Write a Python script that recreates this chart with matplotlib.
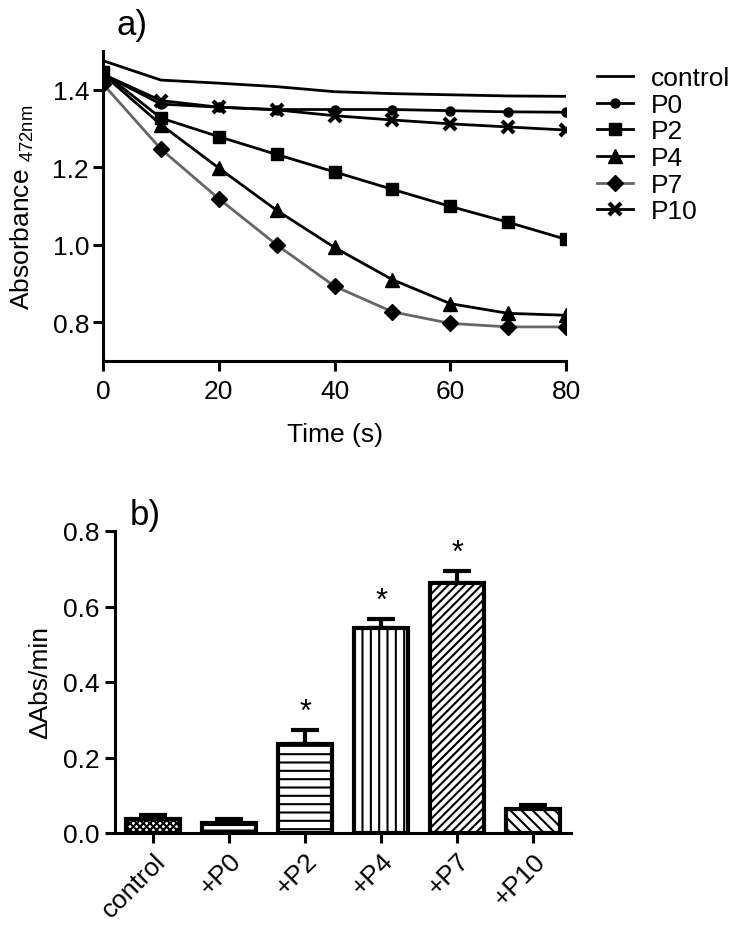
import numpy as np
import matplotlib.pyplot as plt

plt.rcParams['font.family'] = ['Liberation Sans', 'DejaVu Sans']
plt.rcParams['hatch.linewidth'] = 1.5

# ==============================
# DATA - panel a
# ==============================
time_s = [0, 10, 20, 30, 40, 50, 60, 70, 80]
control = [1.475, 1.425, 1.417, 1.408, 1.395, 1.390, 1.387, 1.384, 1.383]
p0 = [1.44, 1.363, 1.355, 1.349, 1.349, 1.349, 1.346, 1.343, 1.342]
p2 = [1.445, 1.327, 1.279, 1.233, 1.188, 1.143, 1.099, 1.058, 1.014]
p4 = [1.44, 1.31, 1.198, 1.089, 0.993, 0.91, 0.848, 0.823, 0.818]
p7 = [1.415, 1.247, 1.119, 1.0, 0.893, 0.827, 0.797, 0.788, 0.788]
p10 = [1.44, 1.372, 1.355, 1.348, 1.333, 1.322, 1.312, 1.304, 1.296]

# ==============================
# DATA - panel b
# ==============================
groups = ["control", "+P0", "+P2", "+P4", "+P7", "+P10"]
rates = [0.037, 0.027, 0.237, 0.543, 0.663, 0.064]
errors = [0.012, 0.010, 0.035, 0.023, 0.032, 0.009]
significant = [False, False, True, True, True, False]
hatches = ["xxxxx", "---", "--", "||", "////", "\\\\\\"]

fs = 19
fig = plt.figure(figsize=(7.42, 9.37), dpi=100)

# ==============================
# PANEL A
# ==============================
ax1 = fig.add_axes([103 / 742, 1 - 362 / 937, 463 / 742, 310 / 937])
lw = 2.0
ax1.plot(time_s, control, color="black", lw=lw, label="control")
ax1.plot(time_s, p0, color="black", lw=lw, marker="o", ms=6.5, label="P0")
ax1.plot(time_s, p2, color="black", lw=lw, marker="s", ms=9, label="P2")
ax1.plot(time_s, p4, color="black", lw=lw, marker="^", ms=9.5, label="P4")
ax1.plot(time_s, p7, color="#666666", lw=lw, marker="D", ms=8,
         mfc="black", mec="black", label="P7")
ax1.plot(time_s, p10, color="black", lw=lw, marker="x", ms=9, mew=3, label="P10")

ax1.set_xlim(0, 80)
ax1.set_ylim(0.7, 1.5)
ax1.set_xticks([0, 20, 40, 60, 80])
ax1.set_yticks([0.8, 1.0, 1.2, 1.4])
ax1.set_yticklabels(["0.8", "1.0", "1.2", "1.4"])
ax1.spines[["top", "right"]].set_visible(False)
for s in ["left", "bottom"]:
    ax1.spines[s].set_linewidth(2.2)
ax1.tick_params(width=2.2, length=7, labelsize=fs, pad=3)
ax1.tick_params(axis="x", pad=6)
ax1.set_xlabel("Time (s)", fontsize=fs, labelpad=14)
ax1.set_ylabel(r"Absorbance $_{\mathregular{472nm}}$", fontsize=fs, labelpad=12)
ax1.text(117 / 742, 1 - 25 / 937, "a)", transform=fig.transFigure,
         fontsize=25, ha="left", va="center")

fig.legend(loc="upper left", bbox_to_anchor=(584 / 742, 1 - 54 / 937),
           frameon=False, fontsize=fs, handlelength=1.36, handletextpad=0.68,
           labelspacing=0.1, borderpad=0)

# ==============================
# PANEL B
# ==============================
ax2 = fig.add_axes([115 / 742, 1 - 834 / 937, 456 / 742, 302 / 937])
x = np.arange(len(groups))
for i in range(len(groups)):
    ax2.bar(x[i], rates[i], width=0.71, color="white", edgecolor="black",
            linewidth=3, hatch=hatches[i], zorder=2)
    ax2.errorbar(x[i], rates[i], yerr=[[0], [errors[i]]], color="black",
                 elinewidth=3, capsize=10, capthick=3, zorder=1)
    if significant[i]:
        ax2.text(x[i], rates[i] + errors[i] + 0.008, "*", ha="center",
                 va="bottom", fontsize=22)

ax2.set_xlim(-0.5, 5.5)
ax2.set_ylim(0, 0.8)
ax2.set_yticks([0.0, 0.2, 0.4, 0.6, 0.8])
ax2.set_yticklabels(["0.0", "0.2", "0.4", "0.6", "0.8"])
ax2.set_xticks(x)
ax2.set_xticklabels(groups, rotation=45, ha="right", rotation_mode="anchor")
ax2.spines[["top", "right"]].set_visible(False)
for s in ["left", "bottom"]:
    ax2.spines[s].set_linewidth(2.2)
ax2.tick_params(width=2.2, length=7, labelsize=fs, pad=4)
ax2.set_ylabel("ΔAbs/min", fontsize=fs, labelpad=8)
ax2.text(130 / 742, 1 - 515 / 937, "b)", transform=fig.transFigure,
         fontsize=25, ha="left", va="center")

fig.savefig("out.png", dpi=100)
